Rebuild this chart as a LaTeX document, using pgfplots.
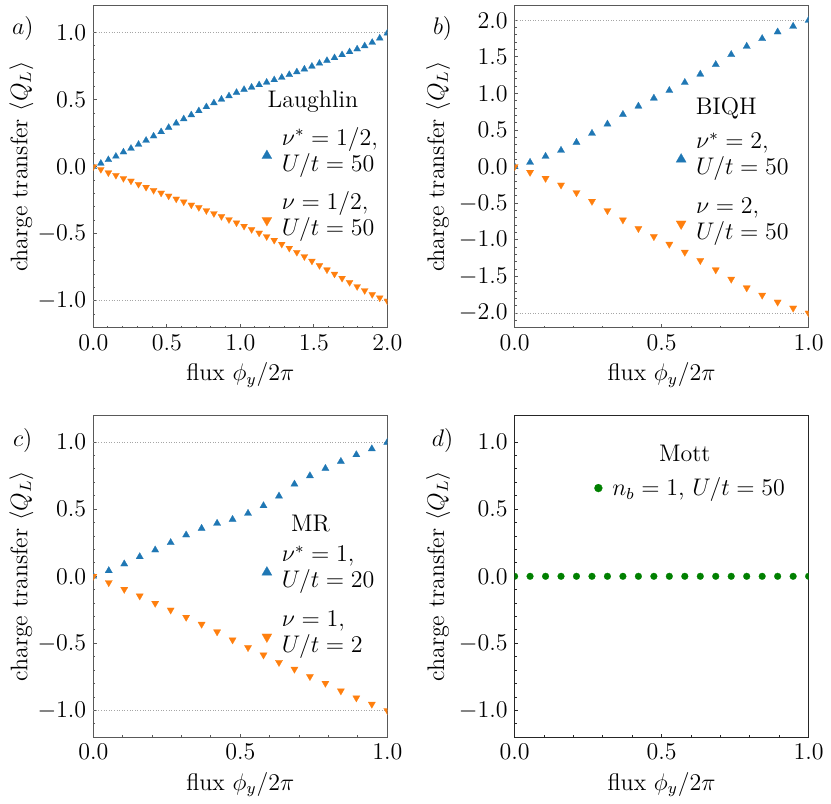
\documentclass[border=0pt]{standalone}
\usepackage{pgfplots}
\pgfplotsset{compat=1.18}
\definecolor{mblue}{HTML}{1F77B4}
\definecolor{morange}{HTML}{FF7F0E}
\definecolor{mgreen}{HTML}{008000}
\renewcommand{\arraystretch}{0.9}
\newcommand{\fs}{\fontsize{12}{14.4}\selectfont}

\pgfplotsset{
  panel/.style={
    scale only axis, width=147pt, height=161pt,
    anchor=south west,
    font=\fs,
    axis line style={black!65, line width=0.5pt},
    every tick/.style={black!65, line width=0.5pt},
    major tick length=1.75pt, minor tick length=1pt,
    tick align=inside, tick pos=left,
    minor x tick num=4, minor y tick num=4,
    xtick distance=0.5, ytick distance=0.5,
    tick label style={font=\fs},
    xticklabel style={/pgf/number format/.cd, fixed, fixed zerofill, precision=1},
    yticklabel style={/pgf/number format/.cd, fixed, fixed zerofill, precision=1},
    xlabel={flux $\phi_y/2\pi$},
    ylabel={charge transfer $\langle Q_L\rangle$},
    xlabel style={at={(axis description cs:0.5,-0.147)}, anchor=center, font=\fs},
    ylabel style={at={(axis description cs:-0.245,0.5)}, anchor=center, font=\fs},
    clip marker paths=true,
    legend cell align=left,
    legend style={draw=none, fill=none, anchor=west, inner sep=0pt, column sep=3pt,
      row sep=10.8pt, font=\fs},
  },
  mymarks/.style={only marks,
    legend image code/.code={\draw[##1] plot coordinates {(0pt,-5.5pt)};}},
  mymarksone/.style={only marks,
    legend image code/.code={\draw[##1] plot coordinates {(0pt,0pt)};}},
  upm/.style={mymarks, mark=triangle*, mark size=2.0pt,
    mark options={fill=mblue, draw=mblue, line width=0.1pt},
    legend image post style={mark size=2.9pt}},
  dnm/.style={mymarks, mark=triangle*, mark size=2.0pt,
    mark options={fill=morange, draw=morange, line width=0.1pt, rotate=180},
    legend image post style={mark size=2.9pt}},
  refl/.style={forget plot, gray!70, line width=0.5pt, dash pattern=on 0.5pt off 0.8pt},
}

\begin{document}
\begin{tikzpicture}
\useasboundingbox (0,0) rectangle (415.5pt,402pt);

% ---------------- a) ----------------
\begin{axis}[panel, at={(46.65pt,238.15pt)},
  xmin=0, xmax=2, ymin=-1.2, ymax=1.2,
  legend style={at={(0.572,0.468)}},
  extra description/.code={\node at (-0.24,0.93) {$a)$};}]
\addplot[refl] coordinates {(0,1) (2,1)};
\addplot[refl] coordinates {(0,-1) (2,-1)};
\addplot[upm] coordinates {
(0.0000,0.000) (0.0513,0.025) (0.1026,0.052) (0.1538,0.077) (0.2051,0.109)
(0.2564,0.136) (0.3077,0.166) (0.3590,0.196) (0.4103,0.228) (0.4615,0.260)
(0.5128,0.292) (0.5641,0.324) (0.6154,0.356) (0.6667,0.386) (0.7179,0.416)
(0.7692,0.446) (0.8205,0.475) (0.8718,0.502) (0.9231,0.527) (0.9744,0.553)
(1.0256,0.575) (1.0769,0.592) (1.1282,0.610) (1.1795,0.629) (1.2308,0.647)
(1.2821,0.665) (1.3333,0.686) (1.3846,0.706) (1.4359,0.727) (1.4872,0.748)
(1.5385,0.770) (1.5897,0.791) (1.6410,0.812) (1.6923,0.834) (1.7436,0.856)
(1.7949,0.877) (1.8462,0.900) (1.8974,0.926) (1.9487,0.958) (2.0000,0.995)};
\addlegendentry{\begin{tabular}{@{}l@{}}$\nu^* = 1/2,$\\$U/t = 50$\end{tabular}}
\addplot[dnm] coordinates {
(0.0000,0.000) (0.0513,-0.020) (0.1026,-0.045) (0.1538,-0.064) (0.2051,-0.087)
(0.2564,-0.106) (0.3077,-0.131) (0.3590,-0.153) (0.4103,-0.176) (0.4615,-0.196)
(0.5128,-0.218) (0.5641,-0.240) (0.6154,-0.262) (0.6667,-0.285) (0.7179,-0.304)
(0.7692,-0.327) (0.8205,-0.349) (0.8718,-0.371) (0.9231,-0.394) (0.9744,-0.418)
(1.0256,-0.443) (1.0769,-0.468) (1.1282,-0.494) (1.1795,-0.521) (1.2308,-0.548)
(1.2821,-0.577) (1.3333,-0.607) (1.3846,-0.638) (1.4359,-0.670) (1.4872,-0.703)
(1.5385,-0.736) (1.5897,-0.768) (1.6410,-0.800) (1.6923,-0.831) (1.7436,-0.862)
(1.7949,-0.893) (1.8462,-0.923) (1.8974,-0.952) (1.9487,-0.977) (2.0000,-1.000)};
\addlegendentry{\begin{tabular}{@{}l@{}}$\nu = 1/2,$\\$U/t = 50$\end{tabular}}
\node at (axis cs:1.494,0.487) {Laughlin};
\end{axis}

% ---------------- b) ----------------
\begin{axis}[panel, at={(257.3pt,238.15pt)},
  xmin=0, xmax=1, ymin=-2.2, ymax=2.2,
  ylabel style={at={(axis description cs:-0.26,0.5)}},
  legend style={at={(0.548,0.457)}},
  extra description/.code={\node at (-0.245,0.93) {$b)$};}]
\addplot[refl] coordinates {(0,2) (1,2)};
\addplot[refl] coordinates {(0,-2) (1,-2)};
\addplot[upm, mark size=2.1pt] coordinates {
(0.0000,0.000) (0.0526,0.059) (0.1053,0.141) (0.1579,0.223) (0.2105,0.332)
(0.2632,0.455) (0.3158,0.582) (0.3684,0.714) (0.4211,0.827) (0.4737,0.936)
(0.5263,1.041) (0.5789,1.150) (0.6316,1.264) (0.6842,1.395) (0.7368,1.532)
(0.7895,1.645) (0.8421,1.750) (0.8947,1.841) (0.9474,1.918) (1.0000,2.000)};
\addlegendentry{\begin{tabular}{@{}l@{}}$\nu^* = 2,$\\$U/t = 50$\end{tabular}}
\addplot[dnm, mark size=2.1pt] coordinates {
(0.0000,0.000) (0.0526,-0.077) (0.1053,-0.159) (0.1579,-0.250) (0.2105,-0.355)
(0.2632,-0.473) (0.3158,-0.600) (0.3684,-0.727) (0.4211,-0.845) (0.4737,-0.955)
(0.5263,-1.059) (0.5789,-1.168) (0.6316,-1.282) (0.6842,-1.409) (0.7368,-1.536)
(0.7895,-1.655) (0.8421,-1.755) (0.8947,-1.850) (0.9474,-1.932) (1.0000,-2.000)};
\addlegendentry{\begin{tabular}{@{}l@{}}$\nu = 2,$\\$U/t = 50$\end{tabular}}
\node at (axis cs:0.72,0.797) {BIQH};
\end{axis}

% ---------------- c) ----------------
\begin{axis}[panel, at={(46.65pt,33.35pt)},
  xmin=0, xmax=1, ymin=-1.2, ymax=1.2,
  legend style={at={(0.572,0.4465)}},
  extra description/.code={\node at (-0.24,0.923) {$c)$};}]
\addplot[refl] coordinates {(0,1) (1,1)};
\addplot[refl] coordinates {(0,-1) (1,-1)};
\addplot[upm, mark size=2.1pt] coordinates {
(0.0000,0.000) (0.0526,0.042) (0.1053,0.092) (0.1579,0.146) (0.2105,0.196)
(0.2632,0.251) (0.3158,0.308) (0.3684,0.357) (0.4211,0.395) (0.4737,0.424)
(0.5263,0.469) (0.5789,0.526) (0.6316,0.598) (0.6842,0.687) (0.7368,0.749)
(0.7895,0.804) (0.8421,0.856) (0.8947,0.906) (0.9474,0.950) (1.0000,0.998)};
\addlegendentry{\begin{tabular}{@{}l@{}}$\nu^* = 1,$\\$U/t = 20$\end{tabular}}
\addplot[dnm, mark size=2.1pt] coordinates {
(0.0000,0.000) (0.0526,-0.047) (0.1053,-0.097) (0.1579,-0.146) (0.2105,-0.201)
(0.2632,-0.251) (0.3158,-0.305) (0.3684,-0.357) (0.4211,-0.414) (0.4737,-0.474)
(0.5263,-0.531) (0.5789,-0.586) (0.6316,-0.642) (0.6842,-0.692) (0.7368,-0.747)
(0.7895,-0.797) (0.8421,-0.854) (0.8947,-0.906) (0.9474,-0.953) (1.0000,-1.000)};
\addlegendentry{\begin{tabular}{@{}l@{}}$\nu = 1,$\\$U/t = 2$\end{tabular}}
\node at (axis cs:0.739,0.394) {MR};
\end{axis}

% ---------------- d) ----------------
\begin{axis}[panel, at={(257.3pt,33.35pt)},
  xmin=0, xmax=1, ymin=-1.2, ymax=1.2,
  axis line style={black!85}, every tick/.style={black!85, line width=0.5pt},
  ylabel style={at={(axis description cs:-0.26,0.5)}},
  legend style={at={(0.270,0.774)}},
  extra description/.code={\node at (-0.245,0.923) {$d)$};}]
\addplot[mymarksone, mark=*, mark size=1.7pt,
  mark options={fill=mgreen, draw=mgreen, line width=0.1pt},
  legend image post style={mark size=2.0pt}] coordinates {
(0.0000,0) (0.0526,0) (0.1053,0) (0.1579,0) (0.2105,0)
(0.2632,0) (0.3158,0) (0.3684,0) (0.4211,0) (0.4737,0)
(0.5263,0) (0.5789,0) (0.6316,0) (0.6842,0) (0.7368,0)
(0.7895,0) (0.8421,0) (0.8947,0) (0.9474,0) (1.0000,0)};
\addlegendentry{$n_b = 1$, $U/t = 50$}
\node at (axis cs:0.579,0.913) {Mott};
\end{axis}
\end{tikzpicture}
\end{document}
